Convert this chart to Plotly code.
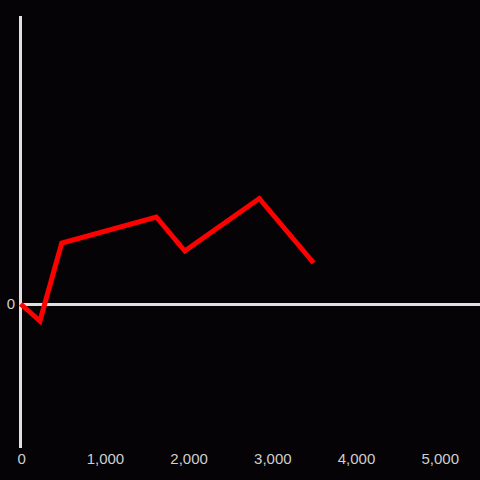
import plotly.graph_objects as go

x_vals = [0, 230, 490, 1620, 1960, 2850, 3500]
y_vals = [0, -17, 61, 87, 53, 105.5, 41]
x_ticks = [0, 1000, 2000, 3000, 4000, 5000]
x_tick_text = ["0", "1,000", "2,000", "3,000", "4,000", "5,000"]

bg = "#050305"
fig = go.Figure()
fig.add_trace(go.Scatter(x=x_vals, y=y_vals, mode="lines",
                         line=dict(color="#ff0000", width=5),
                         hoverinfo="skip"))
fig.update_layout(
    width=480, height=480,
    paper_bgcolor=bg, plot_bgcolor=bg,
    margin=dict(l=19, r=0, t=16, b=32, autoexpand=False),
    showlegend=False,
    font=dict(family="Liberation Sans, Arial, sans-serif", size=15, color="#cfcfcf"),
)
fig.update_xaxes(range=[-20.3, 5487], tickvals=x_ticks, ticktext=x_tick_text,
                 showgrid=False, zeroline=True, zerolinecolor="#e0e0e0", zerolinewidth=3,
                 showline=False, ticks="", ticklabelshift=1)
fig.update_yaxes(range=[-144, 288], tickvals=[0], ticktext=["0"],
                 showgrid=False, zeroline=True, zerolinecolor="#e0e0e0", zerolinewidth=3,
                 showline=False, ticks="", ticklabelstandoff=3)
fig.write_html("out.html",
               config={"displayModeBar": False},
               post_script="document.body.style.margin='0';document.body.style.background='%s';" % bg)
